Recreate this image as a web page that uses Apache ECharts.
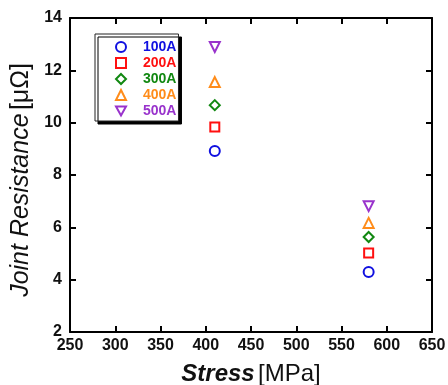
<!DOCTYPE html>
<html>
<head>
<meta charset="utf-8">
<script src="https://cdn.jsdelivr.net/npm/echarts@6/dist/echarts.min.js"></script>
<style>
  html, body { margin: 0; padding: 0; background: #fff; }
  #chart { width: 448px; height: 385px; }
</style>
</head>
<body>
<div id="chart"></div>
<script>
// stress values (MPa) where resistance was measured
const stress = [410, 580];
const currents = ['100A', '200A', '300A', '400A', '500A'];
const r100 = [8.92, 4.29];
const r200 = [9.83, 5.02];
const r300 = [10.67, 5.63];
const r400 = [11.55, 6.17];
const r500 = [12.89, 6.81];
const colors = ['#1010e0', '#ff1010', '#118811', '#ff8c1a', '#9933cc'];
const downTriangle = 'path://M0,0 L10,0 L5,9 Z';
const symbols = ['circle', 'rect', 'diamond', 'triangle', downTriangle];
const values = [r100, r200, r300, r400, r500];

const chart = echarts.init(document.getElementById('chart'));
const font = 'Liberation Sans, Arial, sans-serif';

const axisLine = { lineStyle: { color: '#000', width: 2 } };
const axisTick = { inside: true, length: 6, lineStyle: { color: '#000', width: 2 } };
const tickLabel = { color: '#111', fontSize: 16, fontWeight: 'bold', fontFamily: font };

chart.setOption({
  animation: false,
  grid: { left: 70, right: 16, top: 18, bottom: 53, outerBoundsMode: 'none' },
  legend: {
    orient: 'vertical',
    left: 95,
    top: 34,
    itemWidth: 10,
    itemHeight: 10,
    itemGap: 0,
    padding: [5, 2, 2, 20],
    backgroundColor: '#fff',
    borderColor: '#222',
    borderWidth: 1,
    shadowColor: '#000',
    shadowBlur: 0,
    shadowOffsetX: 3,
    shadowOffsetY: 3,
    textStyle: { fontFamily: font, fontWeight: 'bold', fontSize: 14, lineHeight: 16, padding: [0, 0, 0, 12] },
    data: currents.map((c, i) => ({ name: c, icon: symbols[i], textStyle: { color: colors[i] } }))
  },
  xAxis: [
    {
      type: 'value', min: 250, max: 650, interval: 50,
      axisLine, axisTick, splitLine: { show: false },
      axisLabel: { ...tickLabel, margin: 6 },
      name: '{b|Stress} {n|[MPa]}',
      nameLocation: 'middle', nameGap: 30,
      nameTextStyle: {
        rich: {
          b: { fontFamily: font, fontSize: 24, fontWeight: 'bold', fontStyle: 'italic', color: '#111' },
          n: { fontFamily: font, fontSize: 24, color: '#111' }
        }
      }
    },
    {
      type: 'value', position: 'top', min: 250, max: 650, interval: 50,
      axisLine, axisTick, axisLabel: { show: false }, splitLine: { show: false }
    }
  ],
  yAxis: [
    {
      type: 'value', min: 2, max: 14, interval: 2,
      axisLine, axisTick, splitLine: { show: false },
      axisLabel: { ...tickLabel, margin: 8 },
      name: '{i|Joint Resistance} {n|[μΩ]}',
      nameLocation: 'middle', nameGap: 36,
      nameTextStyle: {
        padding: [0, 10, 0, 0],
        rich: {
          i: { fontFamily: font, fontSize: 25, fontStyle: 'italic', color: '#111' },
          n: { fontFamily: font, fontSize: 25, color: '#111' }
        }
      }
    },
    {
      type: 'value', position: 'right', min: 2, max: 14, interval: 2,
      axisLine, axisTick, axisLabel: { show: false }, splitLine: { show: false }
    }
  ],
  series: currents.map((c, i) => ({
    name: c,
    type: 'scatter',
    symbol: symbols[i],
    symbolSize: i === 1 ? 9 : 10,
    itemStyle: { color: '#fff', borderColor: colors[i], borderWidth: 2, opacity: 1 },
    data: stress.map((s, k) => [s, values[i][k]])
  }))
});
</script>
</body>
</html>
